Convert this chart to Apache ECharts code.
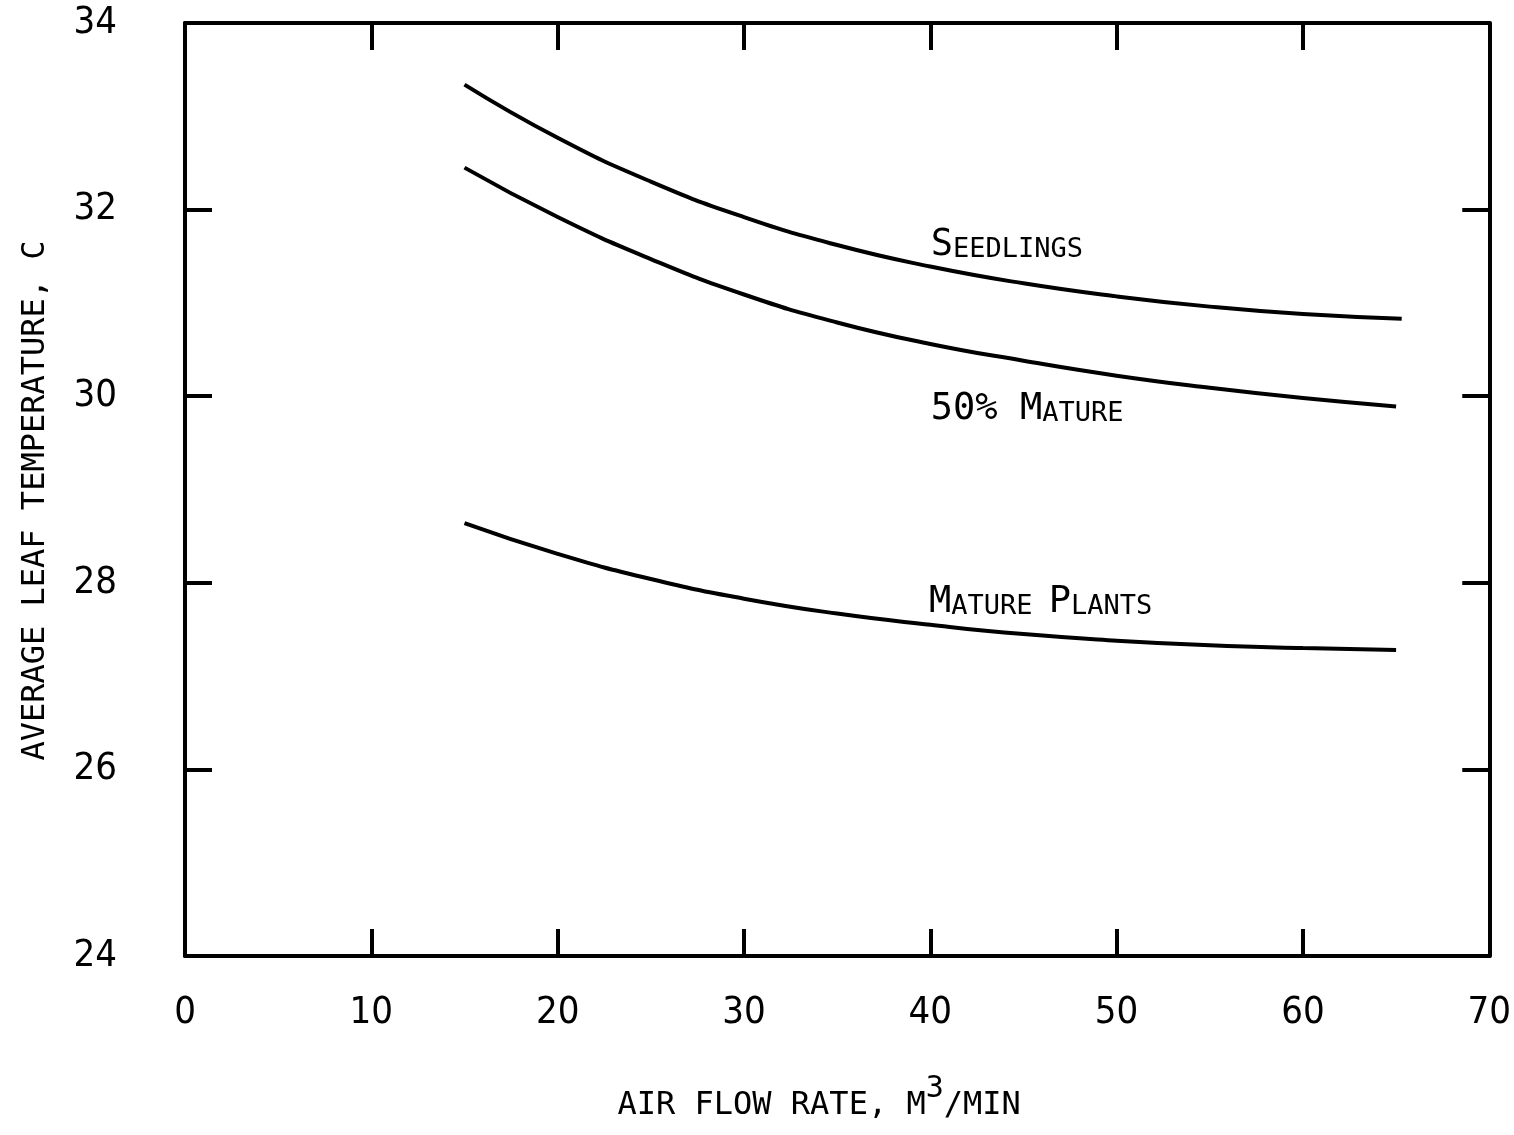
<!DOCTYPE html>
<html>
<head>
<meta charset="utf-8">
<script src="https://cdn.jsdelivr.net/npm/echarts@6/dist/echarts.min.js"></script>
<style>
html,body{margin:0;padding:0;background:#fff;overflow:hidden;}
#chart{width:1514px;height:1135px;}
</style>
</head>
<body>
<div id="chart"></div>
<script>
// Data
const seedlingsX = [15, 20, 25, 30, 35, 40, 45, 50, 55, 60, 65.3];
const seedlingsY = [33.34, 32.77, 32.30, 31.92, 31.62, 31.39, 31.21, 31.07, 30.96, 30.88, 30.83];
const halfMatureX = [15, 20, 25, 30, 35, 40, 45, 50, 55, 60, 65];
const halfMatureY = [32.45, 31.92, 31.47, 31.09, 30.79, 30.56, 30.38, 30.22, 30.09, 29.98, 29.89];
const matureX = [15, 20, 25, 30, 35, 40, 45, 50, 55, 60, 65];
const matureY = [28.64, 28.31, 28.04, 27.83, 27.67, 27.55, 27.45, 27.38, 27.33, 27.30, 27.28];

const curveLabels = ['{b|S}{s|EEDLINGS}', '{b|50% M}{s|ATURE}', '{b|M}{s|ATURE }{b|P}{s|LANTS}'];
const curveLabelX = [40, 40, 39.9];
const curveLabelY = [31.62, 29.86, 27.79];

const xTicks = [0, 10, 20, 30, 40, 50, 60, 70];
const yTicks = [24, 26, 28, 30, 32, 34];

const xTitle = '{a|AIR FLOW RATE, M}{sup|3}{a|/MIN}';
const yTitle = 'AVERAGE LEAF TEMPERATURE, C';

function pairs(xs, ys){ return xs.map((x,i)=>[x, ys[i]]); }

const chart = echarts.init(document.getElementById('chart'), null, {renderer:'canvas', width:1514, height:1135});

const axisLineStyle = {show:true, onZero:false, lineStyle:{color:'#000', width:4}};
const tickStyle = {show:true, inside:true, length:27, lineStyle:{color:'#000', width:4}};
const labelFont = {fontFamily:'"Liberation Sans Narrow", "DejaVu Sans Condensed", sans-serif', fontSize:38, color:'#000'};

const textRich = {
  b:{fontFamily:'DejaVu Sans Mono', fontSize:37, color:'#000', opacity:1, verticalAlign:'bottom'},
  s:{fontFamily:'DejaVu Sans Mono', fontSize:27, color:'#000', opacity:1, verticalAlign:'bottom'}
};

const option = {
  animation:false,
  backgroundColor:'#fff',
  grid:{left:185, right:18, top:23, bottom:179, containLabel:false},
  xAxis:[{
    type:'value', min:0, max:70, interval:10, position:'bottom',
    axisLine:axisLineStyle, axisTick:tickStyle, splitLine:{show:false},
    axisLabel:Object.assign({margin:38, formatter:v=>xTicks.includes(v)?String(v):''}, labelFont),
    name:xTitle, nameLocation:'middle', nameGap:118,
    nameTextStyle:{padding:[0,36,0,0], rich:{
      a:{fontFamily:'DejaVu Sans Mono', fontSize:32, color:'#000', verticalAlign:'bottom'},
      sup:{fontFamily:'DejaVu Sans Mono', fontSize:30, color:'#000', verticalAlign:'top', padding:[0,0,18,0]}
    }}
  },{
    type:'value', min:0, max:70, interval:10, position:'top',
    axisLine:axisLineStyle, axisTick:tickStyle, splitLine:{show:false}, axisLabel:{show:false}
  }],
  yAxis:[{
    type:'value', min:24, max:34, interval:2, position:'left',
    axisLine:axisLineStyle, axisTick:tickStyle, splitLine:{show:false},
    axisLabel:Object.assign({margin:68, formatter:v=>yTicks.includes(v)?String(v):''}, labelFont),
    name:yTitle, nameLocation:'middle', nameGap:133,
    nameTextStyle:{fontFamily:'DejaVu Sans Mono', fontSize:32, color:'#000', padding:[0,22,0,0]}
  },{
    type:'value', min:24, max:34, interval:2, position:'right',
    axisLine:axisLineStyle, axisTick:tickStyle, splitLine:{show:false}, axisLabel:{show:false}
  }],
  series:[
    {name:'Seedlings', type:'line', smooth:true, showSymbol:false, data:pairs(seedlingsX, seedlingsY),
     lineStyle:{color:'#000', width:4}},
    {name:'50% Mature', type:'line', smooth:true, showSymbol:false, data:pairs(halfMatureX, halfMatureY),
     lineStyle:{color:'#000', width:4}},
    {name:'Mature Plants', type:'line', smooth:true, showSymbol:false, data:pairs(matureX, matureY),
     lineStyle:{color:'#000', width:4}},
    {name:'labels', type:'scatter', symbolSize:1, silent:true, itemStyle:{color:'#000', opacity:0},
     emphasis:{disabled:true},
     data:curveLabelX.map((x,i)=>({value:[x, curveLabelY[i]], label:{formatter:curveLabels[i]}})),
     label:{show:true, position:'right', distance:0, color:'#000', opacity:1, rich:textRich}}
  ]
};
chart.setOption(option);
</script>
</body>
</html>
